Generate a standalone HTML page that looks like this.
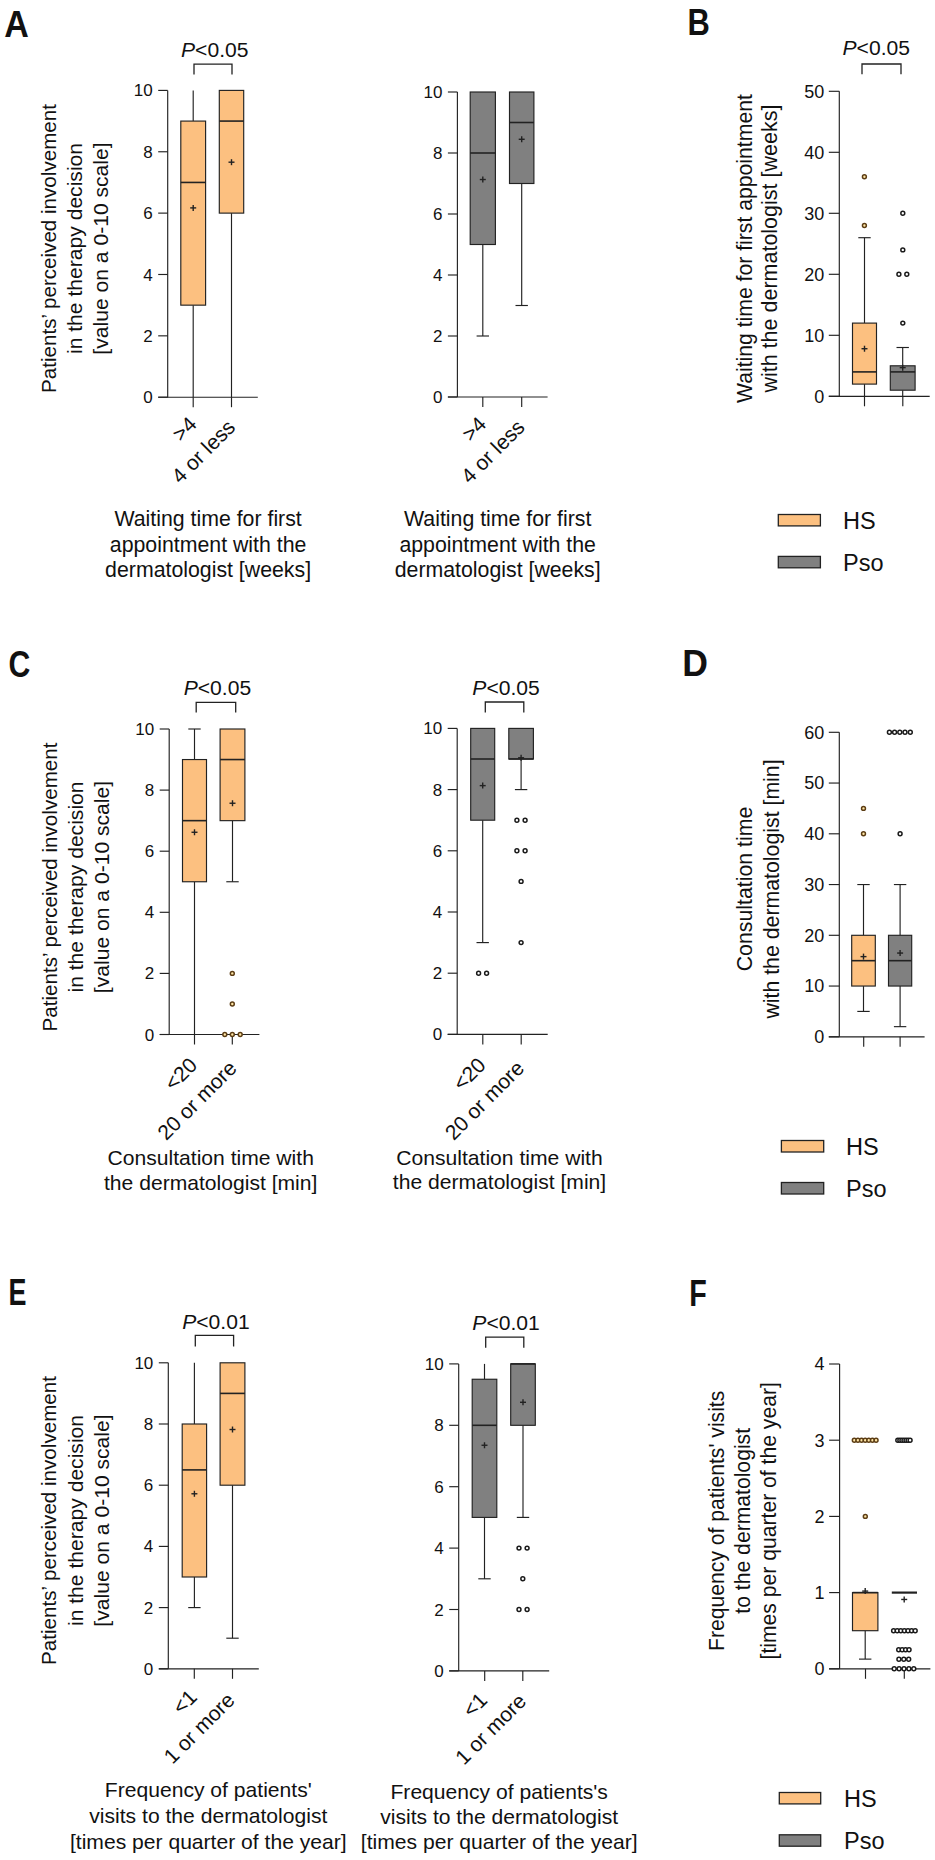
<!DOCTYPE html>
<html><head><meta charset="utf-8"><style>
html,body{margin:0;padding:0;background:#fff;}
svg{display:block;}
text{font-family:"Liberation Sans", sans-serif;fill:#111;}
</style></head><body>
<svg width="935" height="1860" viewBox="0 0 935 1860">
<rect width="935" height="1860" fill="#fff"/>
<text x="0" y="0" font-size="37" font-weight="bold" transform="translate(4.20,36.60) scale(0.92,1)">A</text>
<line x1="167.70" y1="90.40" x2="167.70" y2="397.20" stroke="#222222" stroke-width="1.15"/>
<line x1="158.20" y1="397.20" x2="167.70" y2="397.20" stroke="#222222" stroke-width="1.15"/>
<text x="152.70" y="403.29" font-size="17" text-anchor="end" >0</text>
<line x1="158.20" y1="335.84" x2="167.70" y2="335.84" stroke="#222222" stroke-width="1.15"/>
<text x="152.70" y="341.93" font-size="17" text-anchor="end" >2</text>
<line x1="158.20" y1="274.48" x2="167.70" y2="274.48" stroke="#222222" stroke-width="1.15"/>
<text x="152.70" y="280.57" font-size="17" text-anchor="end" >4</text>
<line x1="158.20" y1="213.12" x2="167.70" y2="213.12" stroke="#222222" stroke-width="1.15"/>
<text x="152.70" y="219.21" font-size="17" text-anchor="end" >6</text>
<line x1="158.20" y1="151.76" x2="167.70" y2="151.76" stroke="#222222" stroke-width="1.15"/>
<text x="152.70" y="157.85" font-size="17" text-anchor="end" >8</text>
<line x1="158.20" y1="90.40" x2="167.70" y2="90.40" stroke="#222222" stroke-width="1.15"/>
<text x="152.70" y="96.49" font-size="17" text-anchor="end" >10</text>
<line x1="158.20" y1="397.20" x2="257.80" y2="397.20" stroke="#222222" stroke-width="1.15"/>
<line x1="193.20" y1="397.20" x2="193.20" y2="407.20" stroke="#222222" stroke-width="1.15"/>
<line x1="231.50" y1="397.20" x2="231.50" y2="407.20" stroke="#222222" stroke-width="1.15"/>
<line x1="193.20" y1="121.08" x2="193.20" y2="90.40" stroke="#222222" stroke-width="1.15"/>
<line x1="193.20" y1="305.16" x2="193.20" y2="397.20" stroke="#222222" stroke-width="1.15"/>
<rect x="180.80" y="121.08" width="24.80" height="184.08" fill="#FCC080" stroke="#222222" stroke-width="1.15"/>
<line x1="180.80" y1="182.44" x2="205.60" y2="182.44" stroke="#222222" stroke-width="1.6"/>
<line x1="190.20" y1="207.90" x2="196.20" y2="207.90" stroke="#222" stroke-width="1.4"/>
<line x1="193.20" y1="204.90" x2="193.20" y2="210.90" stroke="#222" stroke-width="1.4"/>
<line x1="231.50" y1="90.40" x2="231.50" y2="90.40" stroke="#222222" stroke-width="1.15"/>
<line x1="231.50" y1="213.12" x2="231.50" y2="397.20" stroke="#222222" stroke-width="1.15"/>
<rect x="219.30" y="90.40" width="24.40" height="122.72" fill="#FCC080" stroke="#222222" stroke-width="1.15"/>
<line x1="219.30" y1="121.08" x2="243.70" y2="121.08" stroke="#222222" stroke-width="1.6"/>
<line x1="228.50" y1="162.19" x2="234.50" y2="162.19" stroke="#222" stroke-width="1.4"/>
<line x1="231.50" y1="159.19" x2="231.50" y2="165.19" stroke="#222" stroke-width="1.4"/>
<polyline points="194.00,74.50 194.00,64.20 232.00,64.20 232.00,74.50" fill="none" stroke="#222222" stroke-width="1.3"/>
<text x="181.00" y="56.80" font-size="21.1" text-anchor="start"><tspan font-style="italic">P</tspan>&lt;0.05</text>
<text x="0" y="0" font-size="20.6" text-anchor="middle" transform="translate(55.70,248.50) rotate(-90)">Patients’ perceived involvement</text>
<text x="0" y="0" font-size="21.1" text-anchor="middle" transform="translate(82.20,248.50) rotate(-90)">in the therapy decision</text>
<text x="0" y="0" font-size="21.1" text-anchor="middle" transform="translate(108.40,248.50) rotate(-90)">[value on a 0-10 scale]</text>
<text x="0" y="0" font-size="21" text-anchor="end" transform="translate(198.00,425.50) rotate(-45)">&gt;4</text>
<text x="0" y="0" font-size="21" text-anchor="end" transform="translate(236.50,428.50) rotate(-45)">4 or less</text>
<text x="208.10" y="526.00" font-size="21.3" text-anchor="middle" >Waiting time for first</text>
<text x="208.10" y="551.60" font-size="21.3" text-anchor="middle" >appointment with the</text>
<text x="208.10" y="577.00" font-size="21.3" text-anchor="middle" >dermatologist [weeks]</text>
<line x1="457.40" y1="92.00" x2="457.40" y2="397.00" stroke="#222222" stroke-width="1.15"/>
<line x1="447.90" y1="397.00" x2="457.40" y2="397.00" stroke="#222222" stroke-width="1.15"/>
<text x="442.40" y="403.09" font-size="17" text-anchor="end" >0</text>
<line x1="447.90" y1="336.00" x2="457.40" y2="336.00" stroke="#222222" stroke-width="1.15"/>
<text x="442.40" y="342.09" font-size="17" text-anchor="end" >2</text>
<line x1="447.90" y1="275.00" x2="457.40" y2="275.00" stroke="#222222" stroke-width="1.15"/>
<text x="442.40" y="281.09" font-size="17" text-anchor="end" >4</text>
<line x1="447.90" y1="214.00" x2="457.40" y2="214.00" stroke="#222222" stroke-width="1.15"/>
<text x="442.40" y="220.09" font-size="17" text-anchor="end" >6</text>
<line x1="447.90" y1="153.00" x2="457.40" y2="153.00" stroke="#222222" stroke-width="1.15"/>
<text x="442.40" y="159.09" font-size="17" text-anchor="end" >8</text>
<line x1="447.90" y1="92.00" x2="457.40" y2="92.00" stroke="#222222" stroke-width="1.15"/>
<text x="442.40" y="98.09" font-size="17" text-anchor="end" >10</text>
<line x1="447.90" y1="397.00" x2="547.60" y2="397.00" stroke="#222222" stroke-width="1.15"/>
<line x1="482.80" y1="397.00" x2="482.80" y2="407.00" stroke="#222222" stroke-width="1.15"/>
<line x1="521.70" y1="397.00" x2="521.70" y2="407.00" stroke="#222222" stroke-width="1.15"/>
<line x1="482.80" y1="92.00" x2="482.80" y2="92.00" stroke="#222222" stroke-width="1.15"/>
<line x1="482.80" y1="244.50" x2="482.80" y2="336.00" stroke="#222222" stroke-width="1.15"/>
<line x1="476.60" y1="336.00" x2="489.00" y2="336.00" stroke="#222222" stroke-width="1.15"/>
<rect x="470.20" y="92.00" width="25.20" height="152.50" fill="#808080" stroke="#222222" stroke-width="1.15"/>
<line x1="470.20" y1="153.00" x2="495.40" y2="153.00" stroke="#222222" stroke-width="1.6"/>
<line x1="479.80" y1="179.53" x2="485.80" y2="179.53" stroke="#222" stroke-width="1.4"/>
<line x1="482.80" y1="176.53" x2="482.80" y2="182.53" stroke="#222" stroke-width="1.4"/>
<line x1="521.70" y1="92.00" x2="521.70" y2="92.00" stroke="#222222" stroke-width="1.15"/>
<line x1="521.70" y1="183.50" x2="521.70" y2="305.50" stroke="#222222" stroke-width="1.15"/>
<line x1="515.50" y1="305.50" x2="527.90" y2="305.50" stroke="#222222" stroke-width="1.15"/>
<rect x="509.50" y="92.00" width="24.40" height="91.50" fill="#808080" stroke="#222222" stroke-width="1.15"/>
<line x1="509.50" y1="122.50" x2="533.90" y2="122.50" stroke="#222222" stroke-width="1.6"/>
<line x1="518.70" y1="139.28" x2="524.70" y2="139.28" stroke="#222" stroke-width="1.4"/>
<line x1="521.70" y1="136.28" x2="521.70" y2="142.28" stroke="#222" stroke-width="1.4"/>
<text x="0" y="0" font-size="21" text-anchor="end" transform="translate(487.60,425.50) rotate(-45)">&gt;4</text>
<text x="0" y="0" font-size="21" text-anchor="end" transform="translate(526.00,428.50) rotate(-45)">4 or less</text>
<text x="497.70" y="526.00" font-size="21.3" text-anchor="middle" >Waiting time for first</text>
<text x="497.70" y="551.60" font-size="21.3" text-anchor="middle" >appointment with the</text>
<text x="497.70" y="577.00" font-size="21.3" text-anchor="middle" >dermatologist [weeks]</text>
<text x="0" y="0" font-size="37" font-weight="bold" transform="translate(687.50,34.70) scale(0.837,1)">B</text>
<line x1="839.30" y1="91.30" x2="839.30" y2="396.30" stroke="#222222" stroke-width="1.15"/>
<line x1="828.80" y1="396.30" x2="839.30" y2="396.30" stroke="#222222" stroke-width="1.15"/>
<text x="824.30" y="402.74" font-size="18" text-anchor="end" >0</text>
<line x1="828.80" y1="335.30" x2="839.30" y2="335.30" stroke="#222222" stroke-width="1.15"/>
<text x="824.30" y="341.74" font-size="18" text-anchor="end" >10</text>
<line x1="828.80" y1="274.30" x2="839.30" y2="274.30" stroke="#222222" stroke-width="1.15"/>
<text x="824.30" y="280.74" font-size="18" text-anchor="end" >20</text>
<line x1="828.80" y1="213.30" x2="839.30" y2="213.30" stroke="#222222" stroke-width="1.15"/>
<text x="824.30" y="219.74" font-size="18" text-anchor="end" >30</text>
<line x1="828.80" y1="152.30" x2="839.30" y2="152.30" stroke="#222222" stroke-width="1.15"/>
<text x="824.30" y="158.74" font-size="18" text-anchor="end" >40</text>
<line x1="828.80" y1="91.30" x2="839.30" y2="91.30" stroke="#222222" stroke-width="1.15"/>
<text x="824.30" y="97.74" font-size="18" text-anchor="end" >50</text>
<line x1="828.80" y1="396.30" x2="929.70" y2="396.30" stroke="#222222" stroke-width="1.15"/>
<line x1="864.50" y1="396.30" x2="864.50" y2="406.30" stroke="#222222" stroke-width="1.15"/>
<line x1="902.80" y1="396.30" x2="902.80" y2="406.30" stroke="#222222" stroke-width="1.15"/>
<line x1="864.50" y1="323.10" x2="864.50" y2="237.70" stroke="#222222" stroke-width="1.15"/>
<line x1="864.50" y1="384.10" x2="864.50" y2="396.30" stroke="#222222" stroke-width="1.15"/>
<line x1="858.30" y1="237.70" x2="870.70" y2="237.70" stroke="#222222" stroke-width="1.15"/>
<rect x="852.50" y="323.10" width="24.00" height="61.00" fill="#FCC080" stroke="#222222" stroke-width="1.15"/>
<line x1="852.50" y1="371.90" x2="876.50" y2="371.90" stroke="#222222" stroke-width="1.6"/>
<line x1="861.50" y1="348.72" x2="867.50" y2="348.72" stroke="#222" stroke-width="1.4"/>
<line x1="864.50" y1="345.72" x2="864.50" y2="351.72" stroke="#222" stroke-width="1.4"/>
<line x1="902.70" y1="365.80" x2="902.70" y2="347.50" stroke="#222222" stroke-width="1.15"/>
<line x1="902.70" y1="390.20" x2="902.70" y2="396.30" stroke="#222222" stroke-width="1.15"/>
<line x1="896.50" y1="347.50" x2="908.90" y2="347.50" stroke="#222222" stroke-width="1.15"/>
<rect x="890.30" y="365.80" width="24.80" height="24.40" fill="#808080" stroke="#222222" stroke-width="1.15"/>
<line x1="890.30" y1="371.90" x2="915.10" y2="371.90" stroke="#222222" stroke-width="1.6"/>
<line x1="899.70" y1="367.63" x2="905.70" y2="367.63" stroke="#222" stroke-width="1.4"/>
<line x1="902.70" y1="364.63" x2="902.70" y2="370.63" stroke="#222" stroke-width="1.4"/>
<circle cx="864.40" cy="176.70" r="1.95" fill="#FFE6A6" stroke="#5C3D14" stroke-width="1.5"/>
<circle cx="864.40" cy="225.50" r="1.95" fill="#FFE6A6" stroke="#5C3D14" stroke-width="1.5"/>
<circle cx="902.80" cy="213.30" r="1.95" fill="#FFFFFF" stroke="#1a1a1a" stroke-width="1.5"/>
<circle cx="902.80" cy="249.90" r="1.95" fill="#FFFFFF" stroke="#1a1a1a" stroke-width="1.5"/>
<circle cx="902.80" cy="323.10" r="1.95" fill="#FFFFFF" stroke="#1a1a1a" stroke-width="1.5"/>
<circle cx="898.90" cy="274.30" r="1.95" fill="#FFFFFF" stroke="#1a1a1a" stroke-width="1.5"/>
<circle cx="906.80" cy="274.30" r="1.95" fill="#FFFFFF" stroke="#1a1a1a" stroke-width="1.5"/>
<polyline points="862.00,74.20 862.00,64.00 901.00,64.00 901.00,74.20" fill="none" stroke="#222222" stroke-width="1.3"/>
<text x="842.50" y="54.50" font-size="21.1" text-anchor="start"><tspan font-style="italic">P</tspan>&lt;0.05</text>
<text x="0" y="0" font-size="21.2" text-anchor="middle" transform="translate(752.10,248.60) rotate(-90)">Waiting time for first appointment</text>
<text x="0" y="0" font-size="21.5" text-anchor="middle" transform="translate(776.90,248.60) rotate(-90)">with the dermatologist [weeks]</text>
<rect x="778.30" y="514.50" width="42.10" height="11.40" fill="#FCC080" stroke="#222222" stroke-width="1.3"/>
<rect x="778.30" y="556.40" width="42.10" height="11.40" fill="#808080" stroke="#222222" stroke-width="1.3"/>
<text x="843.00" y="528.61" font-size="23.5" text-anchor="start" >HS</text>
<text x="843.00" y="570.51" font-size="23.5" text-anchor="start" >Pso</text>
<text x="0" y="0" font-size="37" font-weight="bold" transform="translate(8.50,677.40) scale(0.816,1)">C</text>
<line x1="169.20" y1="729.00" x2="169.20" y2="1034.50" stroke="#222222" stroke-width="1.15"/>
<line x1="159.70" y1="1034.50" x2="169.20" y2="1034.50" stroke="#222222" stroke-width="1.15"/>
<text x="154.20" y="1040.59" font-size="17" text-anchor="end" >0</text>
<line x1="159.70" y1="973.40" x2="169.20" y2="973.40" stroke="#222222" stroke-width="1.15"/>
<text x="154.20" y="979.49" font-size="17" text-anchor="end" >2</text>
<line x1="159.70" y1="912.30" x2="169.20" y2="912.30" stroke="#222222" stroke-width="1.15"/>
<text x="154.20" y="918.39" font-size="17" text-anchor="end" >4</text>
<line x1="159.70" y1="851.20" x2="169.20" y2="851.20" stroke="#222222" stroke-width="1.15"/>
<text x="154.20" y="857.29" font-size="17" text-anchor="end" >6</text>
<line x1="159.70" y1="790.10" x2="169.20" y2="790.10" stroke="#222222" stroke-width="1.15"/>
<text x="154.20" y="796.19" font-size="17" text-anchor="end" >8</text>
<line x1="159.70" y1="729.00" x2="169.20" y2="729.00" stroke="#222222" stroke-width="1.15"/>
<text x="154.20" y="735.09" font-size="17" text-anchor="end" >10</text>
<line x1="159.70" y1="1034.50" x2="259.40" y2="1034.50" stroke="#222222" stroke-width="1.15"/>
<line x1="194.50" y1="1034.50" x2="194.50" y2="1044.50" stroke="#222222" stroke-width="1.15"/>
<line x1="232.30" y1="1034.50" x2="232.30" y2="1044.50" stroke="#222222" stroke-width="1.15"/>
<line x1="194.50" y1="759.55" x2="194.50" y2="729.00" stroke="#222222" stroke-width="1.15"/>
<line x1="194.50" y1="881.75" x2="194.50" y2="1034.50" stroke="#222222" stroke-width="1.15"/>
<line x1="188.30" y1="729.00" x2="200.70" y2="729.00" stroke="#222222" stroke-width="1.15"/>
<rect x="182.50" y="759.55" width="24.00" height="122.20" fill="#FCC080" stroke="#222222" stroke-width="1.15"/>
<line x1="182.50" y1="820.65" x2="206.50" y2="820.65" stroke="#222222" stroke-width="1.6"/>
<line x1="191.50" y1="832.26" x2="197.50" y2="832.26" stroke="#222" stroke-width="1.4"/>
<line x1="194.50" y1="829.26" x2="194.50" y2="835.26" stroke="#222" stroke-width="1.4"/>
<line x1="232.50" y1="729.00" x2="232.50" y2="729.00" stroke="#222222" stroke-width="1.15"/>
<line x1="232.50" y1="820.65" x2="232.50" y2="881.75" stroke="#222222" stroke-width="1.15"/>
<line x1="226.30" y1="881.75" x2="238.70" y2="881.75" stroke="#222222" stroke-width="1.15"/>
<rect x="220.10" y="729.00" width="24.80" height="91.65" fill="#FCC080" stroke="#222222" stroke-width="1.15"/>
<line x1="220.10" y1="759.55" x2="244.90" y2="759.55" stroke="#222222" stroke-width="1.6"/>
<line x1="229.50" y1="803.24" x2="235.50" y2="803.24" stroke="#222" stroke-width="1.4"/>
<line x1="232.50" y1="800.24" x2="232.50" y2="806.24" stroke="#222" stroke-width="1.4"/>
<circle cx="232.30" cy="973.40" r="1.95" fill="#FFE6A6" stroke="#5C3D14" stroke-width="1.5"/>
<circle cx="232.30" cy="1003.95" r="1.95" fill="#FFE6A6" stroke="#5C3D14" stroke-width="1.5"/>
<circle cx="224.80" cy="1034.50" r="1.95" fill="#FFE6A6" stroke="#5C3D14" stroke-width="1.5"/>
<circle cx="232.30" cy="1034.50" r="1.95" fill="#FFE6A6" stroke="#5C3D14" stroke-width="1.5"/>
<circle cx="240.20" cy="1034.50" r="1.95" fill="#FFE6A6" stroke="#5C3D14" stroke-width="1.5"/>
<polyline points="196.20,712.50 196.20,702.30 235.70,702.30 235.70,712.50" fill="none" stroke="#222222" stroke-width="1.3"/>
<text x="183.70" y="695.40" font-size="21.1" text-anchor="start"><tspan font-style="italic">P</tspan>&lt;0.05</text>
<text x="0" y="0" font-size="20.6" text-anchor="middle" transform="translate(57.30,887.00) rotate(-90)">Patients’ perceived involvement</text>
<text x="0" y="0" font-size="21.1" text-anchor="middle" transform="translate(82.90,887.00) rotate(-90)">in the therapy decision</text>
<text x="0" y="0" font-size="21.1" text-anchor="middle" transform="translate(109.10,887.00) rotate(-90)">[value on a 0-10 scale]</text>
<text x="0" y="0" font-size="21" text-anchor="end" transform="translate(198.50,1066.50) rotate(-45)">&lt;20</text>
<text x="0" y="0" font-size="21" text-anchor="end" transform="translate(238.00,1069.50) rotate(-45)">20 or more</text>
<text x="210.70" y="1164.70" font-size="21.1" text-anchor="middle" >Consultation time with</text>
<text x="210.70" y="1189.50" font-size="21.1" text-anchor="middle" >the dermatologist [min]</text>
<line x1="457.20" y1="728.40" x2="457.20" y2="1034.40" stroke="#222222" stroke-width="1.15"/>
<line x1="447.70" y1="1034.40" x2="457.20" y2="1034.40" stroke="#222222" stroke-width="1.15"/>
<text x="442.20" y="1040.49" font-size="17" text-anchor="end" >0</text>
<line x1="447.70" y1="973.20" x2="457.20" y2="973.20" stroke="#222222" stroke-width="1.15"/>
<text x="442.20" y="979.29" font-size="17" text-anchor="end" >2</text>
<line x1="447.70" y1="912.00" x2="457.20" y2="912.00" stroke="#222222" stroke-width="1.15"/>
<text x="442.20" y="918.09" font-size="17" text-anchor="end" >4</text>
<line x1="447.70" y1="850.80" x2="457.20" y2="850.80" stroke="#222222" stroke-width="1.15"/>
<text x="442.20" y="856.89" font-size="17" text-anchor="end" >6</text>
<line x1="447.70" y1="789.60" x2="457.20" y2="789.60" stroke="#222222" stroke-width="1.15"/>
<text x="442.20" y="795.69" font-size="17" text-anchor="end" >8</text>
<line x1="447.70" y1="728.40" x2="457.20" y2="728.40" stroke="#222222" stroke-width="1.15"/>
<text x="442.20" y="734.49" font-size="17" text-anchor="end" >10</text>
<line x1="447.70" y1="1034.40" x2="547.70" y2="1034.40" stroke="#222222" stroke-width="1.15"/>
<line x1="482.80" y1="1034.40" x2="482.80" y2="1044.40" stroke="#222222" stroke-width="1.15"/>
<line x1="521.20" y1="1034.40" x2="521.20" y2="1044.40" stroke="#222222" stroke-width="1.15"/>
<line x1="482.70" y1="728.40" x2="482.70" y2="728.40" stroke="#222222" stroke-width="1.15"/>
<line x1="482.70" y1="820.20" x2="482.70" y2="942.60" stroke="#222222" stroke-width="1.15"/>
<line x1="476.50" y1="942.60" x2="488.90" y2="942.60" stroke="#222222" stroke-width="1.15"/>
<rect x="470.70" y="728.40" width="24.00" height="91.80" fill="#808080" stroke="#222222" stroke-width="1.15"/>
<line x1="470.70" y1="759.00" x2="494.70" y2="759.00" stroke="#222222" stroke-width="1.6"/>
<line x1="479.70" y1="785.62" x2="485.70" y2="785.62" stroke="#222" stroke-width="1.4"/>
<line x1="482.70" y1="782.62" x2="482.70" y2="788.62" stroke="#222" stroke-width="1.4"/>
<line x1="521.10" y1="728.40" x2="521.10" y2="728.40" stroke="#222222" stroke-width="1.15"/>
<line x1="521.10" y1="759.00" x2="521.10" y2="789.60" stroke="#222222" stroke-width="1.15"/>
<line x1="514.90" y1="789.60" x2="527.30" y2="789.60" stroke="#222222" stroke-width="1.15"/>
<rect x="508.80" y="728.40" width="24.60" height="30.60" fill="#808080" stroke="#222222" stroke-width="1.15"/>
<line x1="508.80" y1="759.00" x2="533.40" y2="759.00" stroke="#222222" stroke-width="1.6"/>
<line x1="518.10" y1="757.78" x2="524.10" y2="757.78" stroke="#222" stroke-width="1.4"/>
<line x1="521.10" y1="754.78" x2="521.10" y2="760.78" stroke="#222" stroke-width="1.4"/>
<circle cx="478.60" cy="973.20" r="1.95" fill="#FFFFFF" stroke="#1a1a1a" stroke-width="1.5"/>
<circle cx="486.60" cy="973.20" r="1.95" fill="#FFFFFF" stroke="#1a1a1a" stroke-width="1.5"/>
<circle cx="516.90" cy="820.20" r="1.95" fill="#FFFFFF" stroke="#1a1a1a" stroke-width="1.5"/>
<circle cx="525.10" cy="820.20" r="1.95" fill="#FFFFFF" stroke="#1a1a1a" stroke-width="1.5"/>
<circle cx="516.90" cy="850.80" r="1.95" fill="#FFFFFF" stroke="#1a1a1a" stroke-width="1.5"/>
<circle cx="525.10" cy="850.80" r="1.95" fill="#FFFFFF" stroke="#1a1a1a" stroke-width="1.5"/>
<circle cx="521.10" cy="881.40" r="1.95" fill="#FFFFFF" stroke="#1a1a1a" stroke-width="1.5"/>
<circle cx="521.10" cy="942.60" r="1.95" fill="#FFFFFF" stroke="#1a1a1a" stroke-width="1.5"/>
<polyline points="485.30,712.40 485.30,702.00 523.80,702.00 523.80,712.40" fill="none" stroke="#222222" stroke-width="1.3"/>
<text x="472.30" y="695.20" font-size="21.1" text-anchor="start"><tspan font-style="italic">P</tspan>&lt;0.05</text>
<text x="0" y="0" font-size="21" text-anchor="end" transform="translate(487.00,1066.50) rotate(-45)">&lt;20</text>
<text x="0" y="0" font-size="21" text-anchor="end" transform="translate(525.50,1069.50) rotate(-45)">20 or more</text>
<text x="499.50" y="1164.50" font-size="21.1" text-anchor="middle" >Consultation time with</text>
<text x="499.50" y="1189.40" font-size="21.1" text-anchor="middle" >the dermatologist [min]</text>
<text x="0" y="0" font-size="37" font-weight="bold" transform="translate(682.30,675.60) scale(0.962,1)">D</text>
<line x1="839.30" y1="732.30" x2="839.30" y2="1036.80" stroke="#222222" stroke-width="1.15"/>
<line x1="828.80" y1="1036.80" x2="839.30" y2="1036.80" stroke="#222222" stroke-width="1.15"/>
<text x="824.30" y="1043.24" font-size="18" text-anchor="end" >0</text>
<line x1="828.80" y1="986.05" x2="839.30" y2="986.05" stroke="#222222" stroke-width="1.15"/>
<text x="824.30" y="992.49" font-size="18" text-anchor="end" >10</text>
<line x1="828.80" y1="935.30" x2="839.30" y2="935.30" stroke="#222222" stroke-width="1.15"/>
<text x="824.30" y="941.74" font-size="18" text-anchor="end" >20</text>
<line x1="828.80" y1="884.55" x2="839.30" y2="884.55" stroke="#222222" stroke-width="1.15"/>
<text x="824.30" y="890.99" font-size="18" text-anchor="end" >30</text>
<line x1="828.80" y1="833.80" x2="839.30" y2="833.80" stroke="#222222" stroke-width="1.15"/>
<text x="824.30" y="840.24" font-size="18" text-anchor="end" >40</text>
<line x1="828.80" y1="783.05" x2="839.30" y2="783.05" stroke="#222222" stroke-width="1.15"/>
<text x="824.30" y="789.49" font-size="18" text-anchor="end" >50</text>
<line x1="828.80" y1="732.30" x2="839.30" y2="732.30" stroke="#222222" stroke-width="1.15"/>
<text x="824.30" y="738.74" font-size="18" text-anchor="end" >60</text>
<line x1="828.80" y1="1036.80" x2="924.60" y2="1036.80" stroke="#222222" stroke-width="1.15"/>
<line x1="863.70" y1="1036.80" x2="863.70" y2="1046.80" stroke="#222222" stroke-width="1.15"/>
<line x1="900.10" y1="1036.80" x2="900.10" y2="1046.80" stroke="#222222" stroke-width="1.15"/>
<line x1="863.50" y1="935.30" x2="863.50" y2="884.55" stroke="#222222" stroke-width="1.15"/>
<line x1="863.50" y1="986.05" x2="863.50" y2="1011.42" stroke="#222222" stroke-width="1.15"/>
<line x1="857.30" y1="884.55" x2="869.70" y2="884.55" stroke="#222222" stroke-width="1.15"/>
<line x1="857.30" y1="1011.42" x2="869.70" y2="1011.42" stroke="#222222" stroke-width="1.15"/>
<rect x="851.70" y="935.30" width="23.60" height="50.75" fill="#FCC080" stroke="#222222" stroke-width="1.15"/>
<line x1="851.70" y1="960.67" x2="875.30" y2="960.67" stroke="#222222" stroke-width="1.6"/>
<line x1="860.50" y1="956.62" x2="866.50" y2="956.62" stroke="#222" stroke-width="1.4"/>
<line x1="863.50" y1="953.62" x2="863.50" y2="959.62" stroke="#222" stroke-width="1.4"/>
<line x1="900.10" y1="935.30" x2="900.10" y2="884.55" stroke="#222222" stroke-width="1.15"/>
<line x1="900.10" y1="986.05" x2="900.10" y2="1026.65" stroke="#222222" stroke-width="1.15"/>
<line x1="893.90" y1="884.55" x2="906.30" y2="884.55" stroke="#222222" stroke-width="1.15"/>
<line x1="893.90" y1="1026.65" x2="906.30" y2="1026.65" stroke="#222222" stroke-width="1.15"/>
<rect x="888.50" y="935.30" width="23.20" height="50.75" fill="#808080" stroke="#222222" stroke-width="1.15"/>
<line x1="888.50" y1="960.67" x2="911.70" y2="960.67" stroke="#222222" stroke-width="1.6"/>
<line x1="897.10" y1="953.06" x2="903.10" y2="953.06" stroke="#222" stroke-width="1.4"/>
<line x1="900.10" y1="950.06" x2="900.10" y2="956.06" stroke="#222" stroke-width="1.4"/>
<circle cx="863.50" cy="808.42" r="1.95" fill="#FFE6A6" stroke="#5C3D14" stroke-width="1.5"/>
<circle cx="863.50" cy="833.80" r="1.95" fill="#FFE6A6" stroke="#5C3D14" stroke-width="1.5"/>
<circle cx="900.10" cy="833.80" r="1.95" fill="#FFFFFF" stroke="#1a1a1a" stroke-width="1.5"/>
<circle cx="889.40" cy="732.30" r="1.95" fill="#FFFFFF" stroke="#1a1a1a" stroke-width="1.5"/>
<circle cx="894.60" cy="732.30" r="1.95" fill="#FFFFFF" stroke="#1a1a1a" stroke-width="1.5"/>
<circle cx="899.80" cy="732.30" r="1.95" fill="#FFFFFF" stroke="#1a1a1a" stroke-width="1.5"/>
<circle cx="905.00" cy="732.30" r="1.95" fill="#FFFFFF" stroke="#1a1a1a" stroke-width="1.5"/>
<circle cx="910.30" cy="732.30" r="1.95" fill="#FFFFFF" stroke="#1a1a1a" stroke-width="1.5"/>
<text x="0" y="0" font-size="21.3" text-anchor="middle" transform="translate(751.80,889.00) rotate(-90)">Consultation time</text>
<text x="0" y="0" font-size="21.3" text-anchor="middle" transform="translate(779.20,889.00) rotate(-90)">with the dermatologist [min]</text>
<rect x="781.40" y="1140.50" width="42.30" height="11.50" fill="#FCC080" stroke="#222222" stroke-width="1.3"/>
<rect x="781.40" y="1182.50" width="42.30" height="11.50" fill="#808080" stroke="#222222" stroke-width="1.3"/>
<text x="846.00" y="1154.66" font-size="23.5" text-anchor="start" >HS</text>
<text x="846.00" y="1196.66" font-size="23.5" text-anchor="start" >Pso</text>
<text x="0" y="0" font-size="37" font-weight="bold" transform="translate(8.60,1305.00) scale(0.727,1)">E</text>
<line x1="168.30" y1="1362.80" x2="168.30" y2="1668.80" stroke="#222222" stroke-width="1.15"/>
<line x1="158.80" y1="1668.80" x2="168.30" y2="1668.80" stroke="#222222" stroke-width="1.15"/>
<text x="153.30" y="1674.89" font-size="17" text-anchor="end" >0</text>
<line x1="158.80" y1="1607.60" x2="168.30" y2="1607.60" stroke="#222222" stroke-width="1.15"/>
<text x="153.30" y="1613.69" font-size="17" text-anchor="end" >2</text>
<line x1="158.80" y1="1546.40" x2="168.30" y2="1546.40" stroke="#222222" stroke-width="1.15"/>
<text x="153.30" y="1552.49" font-size="17" text-anchor="end" >4</text>
<line x1="158.80" y1="1485.20" x2="168.30" y2="1485.20" stroke="#222222" stroke-width="1.15"/>
<text x="153.30" y="1491.29" font-size="17" text-anchor="end" >6</text>
<line x1="158.80" y1="1424.00" x2="168.30" y2="1424.00" stroke="#222222" stroke-width="1.15"/>
<text x="153.30" y="1430.09" font-size="17" text-anchor="end" >8</text>
<line x1="158.80" y1="1362.80" x2="168.30" y2="1362.80" stroke="#222222" stroke-width="1.15"/>
<text x="153.30" y="1368.89" font-size="17" text-anchor="end" >10</text>
<line x1="158.80" y1="1668.80" x2="258.80" y2="1668.80" stroke="#222222" stroke-width="1.15"/>
<line x1="194.30" y1="1668.80" x2="194.30" y2="1678.80" stroke="#222222" stroke-width="1.15"/>
<line x1="232.50" y1="1668.80" x2="232.50" y2="1678.80" stroke="#222222" stroke-width="1.15"/>
<line x1="194.40" y1="1424.00" x2="194.40" y2="1362.80" stroke="#222222" stroke-width="1.15"/>
<line x1="194.40" y1="1577.00" x2="194.40" y2="1607.60" stroke="#222222" stroke-width="1.15"/>
<line x1="188.20" y1="1607.60" x2="200.60" y2="1607.60" stroke="#222222" stroke-width="1.15"/>
<rect x="182.20" y="1424.00" width="24.40" height="153.00" fill="#FCC080" stroke="#222222" stroke-width="1.15"/>
<line x1="182.20" y1="1469.90" x2="206.60" y2="1469.90" stroke="#222222" stroke-width="1.6"/>
<line x1="191.40" y1="1493.77" x2="197.40" y2="1493.77" stroke="#222" stroke-width="1.4"/>
<line x1="194.40" y1="1490.77" x2="194.40" y2="1496.77" stroke="#222" stroke-width="1.4"/>
<line x1="232.50" y1="1362.80" x2="232.50" y2="1362.80" stroke="#222222" stroke-width="1.15"/>
<line x1="232.50" y1="1485.20" x2="232.50" y2="1638.20" stroke="#222222" stroke-width="1.15"/>
<line x1="226.30" y1="1638.20" x2="238.70" y2="1638.20" stroke="#222222" stroke-width="1.15"/>
<rect x="220.10" y="1362.80" width="24.80" height="122.40" fill="#FCC080" stroke="#222222" stroke-width="1.15"/>
<line x1="220.10" y1="1393.40" x2="244.90" y2="1393.40" stroke="#222222" stroke-width="1.6"/>
<line x1="229.50" y1="1429.51" x2="235.50" y2="1429.51" stroke="#222" stroke-width="1.4"/>
<line x1="232.50" y1="1426.51" x2="232.50" y2="1432.51" stroke="#222" stroke-width="1.4"/>
<polyline points="195.30,1346.40 195.30,1335.30 233.60,1335.30 233.60,1346.40" fill="none" stroke="#222222" stroke-width="1.3"/>
<text x="182.20" y="1329.00" font-size="21.1" text-anchor="start"><tspan font-style="italic">P</tspan>&lt;0.01</text>
<text x="0" y="0" font-size="20.6" text-anchor="middle" transform="translate(56.20,1520.50) rotate(-90)">Patients’ perceived involvement</text>
<text x="0" y="0" font-size="21.1" text-anchor="middle" transform="translate(82.60,1520.50) rotate(-90)">in the therapy decision</text>
<text x="0" y="0" font-size="21.1" text-anchor="middle" transform="translate(108.80,1520.50) rotate(-90)">[value on a 0-10 scale]</text>
<text x="0" y="0" font-size="21" text-anchor="end" transform="translate(198.20,1698.50) rotate(-45)">&lt;1</text>
<text x="0" y="0" font-size="21" text-anchor="end" transform="translate(236.00,1701.50) rotate(-45)">1 or more</text>
<text x="208.30" y="1797.30" font-size="21.1" text-anchor="middle" >Frequency of patients'</text>
<text x="208.30" y="1822.90" font-size="21.1" text-anchor="middle" >visits to the dermatologist</text>
<text x="208.30" y="1848.60" font-size="21.1" text-anchor="middle" >[times per quarter of the year]</text>
<line x1="458.70" y1="1363.90" x2="458.70" y2="1670.90" stroke="#222222" stroke-width="1.15"/>
<line x1="449.20" y1="1670.90" x2="458.70" y2="1670.90" stroke="#222222" stroke-width="1.15"/>
<text x="443.70" y="1676.99" font-size="17" text-anchor="end" >0</text>
<line x1="449.20" y1="1609.50" x2="458.70" y2="1609.50" stroke="#222222" stroke-width="1.15"/>
<text x="443.70" y="1615.59" font-size="17" text-anchor="end" >2</text>
<line x1="449.20" y1="1548.10" x2="458.70" y2="1548.10" stroke="#222222" stroke-width="1.15"/>
<text x="443.70" y="1554.19" font-size="17" text-anchor="end" >4</text>
<line x1="449.20" y1="1486.70" x2="458.70" y2="1486.70" stroke="#222222" stroke-width="1.15"/>
<text x="443.70" y="1492.79" font-size="17" text-anchor="end" >6</text>
<line x1="449.20" y1="1425.30" x2="458.70" y2="1425.30" stroke="#222222" stroke-width="1.15"/>
<text x="443.70" y="1431.39" font-size="17" text-anchor="end" >8</text>
<line x1="449.20" y1="1363.90" x2="458.70" y2="1363.90" stroke="#222222" stroke-width="1.15"/>
<text x="443.70" y="1369.99" font-size="17" text-anchor="end" >10</text>
<line x1="449.20" y1="1670.90" x2="549.20" y2="1670.90" stroke="#222222" stroke-width="1.15"/>
<line x1="484.70" y1="1670.90" x2="484.70" y2="1680.90" stroke="#222222" stroke-width="1.15"/>
<line x1="522.80" y1="1670.90" x2="522.80" y2="1680.90" stroke="#222222" stroke-width="1.15"/>
<line x1="484.50" y1="1379.25" x2="484.50" y2="1363.90" stroke="#222222" stroke-width="1.15"/>
<line x1="484.50" y1="1517.40" x2="484.50" y2="1578.80" stroke="#222222" stroke-width="1.15"/>
<line x1="478.30" y1="1578.80" x2="490.70" y2="1578.80" stroke="#222222" stroke-width="1.15"/>
<rect x="472.20" y="1379.25" width="24.60" height="138.15" fill="#808080" stroke="#222222" stroke-width="1.15"/>
<line x1="472.20" y1="1425.30" x2="496.80" y2="1425.30" stroke="#222222" stroke-width="1.6"/>
<line x1="481.50" y1="1445.26" x2="487.50" y2="1445.26" stroke="#222" stroke-width="1.4"/>
<line x1="484.50" y1="1442.26" x2="484.50" y2="1448.26" stroke="#222" stroke-width="1.4"/>
<line x1="523.00" y1="1363.90" x2="523.00" y2="1363.90" stroke="#222222" stroke-width="1.15"/>
<line x1="523.00" y1="1425.30" x2="523.00" y2="1517.40" stroke="#222222" stroke-width="1.15"/>
<line x1="516.80" y1="1517.40" x2="529.20" y2="1517.40" stroke="#222222" stroke-width="1.15"/>
<rect x="510.70" y="1363.90" width="24.60" height="61.40" fill="#808080" stroke="#222222" stroke-width="1.15"/>
<line x1="510.70" y1="1363.90" x2="535.30" y2="1363.90" stroke="#222222" stroke-width="1.6"/>
<line x1="520.00" y1="1402.28" x2="526.00" y2="1402.28" stroke="#222" stroke-width="1.4"/>
<line x1="523.00" y1="1399.28" x2="523.00" y2="1405.28" stroke="#222" stroke-width="1.4"/>
<circle cx="519.00" cy="1548.10" r="1.95" fill="#FFFFFF" stroke="#1a1a1a" stroke-width="1.5"/>
<circle cx="527.10" cy="1548.10" r="1.95" fill="#FFFFFF" stroke="#1a1a1a" stroke-width="1.5"/>
<circle cx="519.00" cy="1609.50" r="1.95" fill="#FFFFFF" stroke="#1a1a1a" stroke-width="1.5"/>
<circle cx="527.10" cy="1609.50" r="1.95" fill="#FFFFFF" stroke="#1a1a1a" stroke-width="1.5"/>
<circle cx="522.80" cy="1578.80" r="1.95" fill="#FFFFFF" stroke="#1a1a1a" stroke-width="1.5"/>
<polyline points="485.70,1347.80 485.70,1337.20 523.80,1337.20 523.80,1347.80" fill="none" stroke="#222222" stroke-width="1.3"/>
<text x="472.30" y="1330.40" font-size="21.1" text-anchor="start"><tspan font-style="italic">P</tspan>&lt;0.01</text>
<text x="0" y="0" font-size="21" text-anchor="end" transform="translate(488.50,1701.50) rotate(-45)">&lt;1</text>
<text x="0" y="0" font-size="21" text-anchor="end" transform="translate(527.50,1702.50) rotate(-45)">1 or more</text>
<text x="499.20" y="1798.50" font-size="21.1" text-anchor="middle" >Frequency of patients's</text>
<text x="499.20" y="1823.50" font-size="21.1" text-anchor="middle" >visits to the dermatologist</text>
<text x="499.20" y="1849.00" font-size="21.1" text-anchor="middle" >[times per quarter of the year]</text>
<text x="0" y="0" font-size="37" font-weight="bold" transform="translate(689.20,1305.90) scale(0.775,1)">F</text>
<line x1="839.60" y1="1364.00" x2="839.60" y2="1668.80" stroke="#222222" stroke-width="1.15"/>
<line x1="829.10" y1="1668.80" x2="839.60" y2="1668.80" stroke="#222222" stroke-width="1.15"/>
<text x="824.60" y="1675.24" font-size="18" text-anchor="end" >0</text>
<line x1="829.10" y1="1592.60" x2="839.60" y2="1592.60" stroke="#222222" stroke-width="1.15"/>
<text x="824.60" y="1599.04" font-size="18" text-anchor="end" >1</text>
<line x1="829.10" y1="1516.40" x2="839.60" y2="1516.40" stroke="#222222" stroke-width="1.15"/>
<text x="824.60" y="1522.84" font-size="18" text-anchor="end" >2</text>
<line x1="829.10" y1="1440.20" x2="839.60" y2="1440.20" stroke="#222222" stroke-width="1.15"/>
<text x="824.60" y="1446.64" font-size="18" text-anchor="end" >3</text>
<line x1="829.10" y1="1364.00" x2="839.60" y2="1364.00" stroke="#222222" stroke-width="1.15"/>
<text x="824.60" y="1370.44" font-size="18" text-anchor="end" >4</text>
<line x1="829.10" y1="1668.80" x2="930.40" y2="1668.80" stroke="#222222" stroke-width="1.15"/>
<line x1="865.50" y1="1668.80" x2="865.50" y2="1678.80" stroke="#222222" stroke-width="1.15"/>
<line x1="904.30" y1="1668.80" x2="904.30" y2="1678.80" stroke="#222222" stroke-width="1.15"/>
<line x1="865.20" y1="1592.60" x2="865.20" y2="1592.60" stroke="#222222" stroke-width="1.15"/>
<line x1="865.20" y1="1630.70" x2="865.20" y2="1659.12" stroke="#222222" stroke-width="1.15"/>
<line x1="859.00" y1="1659.12" x2="871.40" y2="1659.12" stroke="#222222" stroke-width="1.15"/>
<rect x="852.50" y="1592.60" width="25.40" height="38.10" fill="#FCC080" stroke="#222222" stroke-width="1.15"/>
<line x1="852.50" y1="1592.60" x2="877.90" y2="1592.60" stroke="#222222" stroke-width="1.6"/>
<line x1="862.20" y1="1591.08" x2="868.20" y2="1591.08" stroke="#222" stroke-width="1.4"/>
<line x1="865.20" y1="1588.08" x2="865.20" y2="1594.08" stroke="#222" stroke-width="1.4"/>
<line x1="891.80" y1="1592.60" x2="917.00" y2="1592.60" stroke="#222222" stroke-width="2.2"/>
<line x1="901.20" y1="1599.46" x2="907.20" y2="1599.46" stroke="#222" stroke-width="1.4"/>
<line x1="904.20" y1="1596.46" x2="904.20" y2="1602.46" stroke="#222" stroke-width="1.4"/>
<circle cx="854.30" cy="1440.20" r="1.95" fill="#FFE6A6" stroke="#5C3D14" stroke-width="1.5"/>
<circle cx="857.93" cy="1440.20" r="1.95" fill="#FFE6A6" stroke="#5C3D14" stroke-width="1.5"/>
<circle cx="861.56" cy="1440.20" r="1.95" fill="#FFE6A6" stroke="#5C3D14" stroke-width="1.5"/>
<circle cx="865.19" cy="1440.20" r="1.95" fill="#FFE6A6" stroke="#5C3D14" stroke-width="1.5"/>
<circle cx="868.82" cy="1440.20" r="1.95" fill="#FFE6A6" stroke="#5C3D14" stroke-width="1.5"/>
<circle cx="872.45" cy="1440.20" r="1.95" fill="#FFE6A6" stroke="#5C3D14" stroke-width="1.5"/>
<circle cx="876.08" cy="1440.20" r="1.95" fill="#FFE6A6" stroke="#5C3D14" stroke-width="1.5"/>
<circle cx="865.30" cy="1516.40" r="1.95" fill="#FFE6A6" stroke="#5C3D14" stroke-width="1.5"/>
<circle cx="897.80" cy="1440.20" r="1.95" fill="#FFFFFF" stroke="#1a1a1a" stroke-width="1.5"/>
<circle cx="899.85" cy="1440.20" r="1.95" fill="#FFFFFF" stroke="#1a1a1a" stroke-width="1.5"/>
<circle cx="901.90" cy="1440.20" r="1.95" fill="#FFFFFF" stroke="#1a1a1a" stroke-width="1.5"/>
<circle cx="903.95" cy="1440.20" r="1.95" fill="#FFFFFF" stroke="#1a1a1a" stroke-width="1.5"/>
<circle cx="906.00" cy="1440.20" r="1.95" fill="#FFFFFF" stroke="#1a1a1a" stroke-width="1.5"/>
<circle cx="908.05" cy="1440.20" r="1.95" fill="#FFFFFF" stroke="#1a1a1a" stroke-width="1.5"/>
<circle cx="910.10" cy="1440.20" r="1.95" fill="#FFFFFF" stroke="#1a1a1a" stroke-width="1.5"/>
<circle cx="893.60" cy="1630.70" r="1.95" fill="#FFFFFF" stroke="#1a1a1a" stroke-width="1.5"/>
<circle cx="897.20" cy="1630.70" r="1.95" fill="#FFFFFF" stroke="#1a1a1a" stroke-width="1.5"/>
<circle cx="900.80" cy="1630.70" r="1.95" fill="#FFFFFF" stroke="#1a1a1a" stroke-width="1.5"/>
<circle cx="904.40" cy="1630.70" r="1.95" fill="#FFFFFF" stroke="#1a1a1a" stroke-width="1.5"/>
<circle cx="908.00" cy="1630.70" r="1.95" fill="#FFFFFF" stroke="#1a1a1a" stroke-width="1.5"/>
<circle cx="911.60" cy="1630.70" r="1.95" fill="#FFFFFF" stroke="#1a1a1a" stroke-width="1.5"/>
<circle cx="915.20" cy="1630.70" r="1.95" fill="#FFFFFF" stroke="#1a1a1a" stroke-width="1.5"/>
<circle cx="898.70" cy="1649.75" r="1.95" fill="#FFFFFF" stroke="#1a1a1a" stroke-width="1.5"/>
<circle cx="902.15" cy="1649.75" r="1.95" fill="#FFFFFF" stroke="#1a1a1a" stroke-width="1.5"/>
<circle cx="905.60" cy="1649.75" r="1.95" fill="#FFFFFF" stroke="#1a1a1a" stroke-width="1.5"/>
<circle cx="909.05" cy="1649.75" r="1.95" fill="#FFFFFF" stroke="#1a1a1a" stroke-width="1.5"/>
<circle cx="898.90" cy="1659.27" r="1.95" fill="#FFFFFF" stroke="#1a1a1a" stroke-width="1.5"/>
<circle cx="903.80" cy="1659.27" r="1.95" fill="#FFFFFF" stroke="#1a1a1a" stroke-width="1.5"/>
<circle cx="908.70" cy="1659.27" r="1.95" fill="#FFFFFF" stroke="#1a1a1a" stroke-width="1.5"/>
<circle cx="894.20" cy="1668.80" r="1.95" fill="#FFFFFF" stroke="#1a1a1a" stroke-width="1.5"/>
<circle cx="899.10" cy="1668.80" r="1.95" fill="#FFFFFF" stroke="#1a1a1a" stroke-width="1.5"/>
<circle cx="904.00" cy="1668.80" r="1.95" fill="#FFFFFF" stroke="#1a1a1a" stroke-width="1.5"/>
<circle cx="908.90" cy="1668.80" r="1.95" fill="#FFFFFF" stroke="#1a1a1a" stroke-width="1.5"/>
<circle cx="913.80" cy="1668.80" r="1.95" fill="#FFFFFF" stroke="#1a1a1a" stroke-width="1.5"/>
<text x="0" y="0" font-size="21.15" text-anchor="middle" transform="translate(724.00,1520.80) rotate(-90)">Frequency of patients' visits</text>
<text x="0" y="0" font-size="21.15" text-anchor="middle" transform="translate(750.30,1520.80) rotate(-90)">to the dermatologist</text>
<text x="0" y="0" font-size="21.15" text-anchor="middle" transform="translate(776.00,1520.80) rotate(-90)">[times per quarter of the year]</text>
<rect x="779.30" y="1792.50" width="41.40" height="11.40" fill="#FCC080" stroke="#222222" stroke-width="1.3"/>
<rect x="779.30" y="1834.80" width="41.40" height="11.40" fill="#808080" stroke="#222222" stroke-width="1.3"/>
<text x="844.00" y="1806.61" font-size="23.5" text-anchor="start" >HS</text>
<text x="844.00" y="1848.91" font-size="23.5" text-anchor="start" >Pso</text>
</svg></body></html>
